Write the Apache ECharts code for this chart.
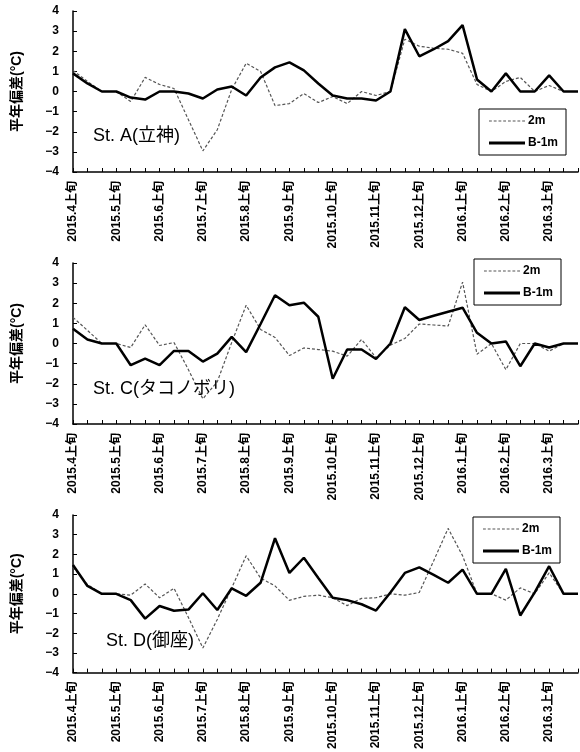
<!DOCTYPE html>
<html><head><meta charset="utf-8">
<script src="https://cdn.jsdelivr.net/npm/echarts@6/dist/echarts.min.js"></script>
<style>html,body{margin:0;padding:0;background:#fff}#c{width:580px;height:752px}</style>
</head><body><div id="c"></div>
<script>
const months = ['2015.4','2015.5','2015.6','2015.7','2015.8','2015.9','2015.10','2015.11','2015.12','2016.1','2016.2','2016.3'];
const dekads = ['上旬','中旬','下旬'];
const categories = [];
months.forEach(m => dekads.forEach(d => categories.push(m + d)));

const yTicks = [-4,-3,-2,-1,0,1,2,3,4];
const stations = ['St. A(立神)','St. C(タコノボリ)','St. D(御座)'];
const seriesNames = ['2m','B-1m'];

const A_2m  = [1.05,0.5,0,0,-0.5,0.7,0.35,0.15,-1.4,-2.95,-1.9,0.1,1.4,1.0,-0.7,-0.6,-0.1,-0.55,-0.25,-0.6,0,-0.2,0,2.6,2.25,2.15,2.1,1.9,0.35,0,0.5,0.7,0,0.3,0,0];
const A_B1m = [0.9,0.4,0,0,-0.3,-0.4,0,0,-0.1,-0.35,0.1,0.25,-0.2,0.7,1.2,1.45,1.05,0.4,-0.2,-0.35,-0.35,-0.45,0,3.1,1.75,2.1,2.5,3.3,0.6,0,0.9,0,0,0.8,0,0];
const C_2m  = [1.3,0.65,0,0,-0.2,0.93,-0.1,0.05,-1.3,-2.75,-1.9,0.05,1.9,0.7,0.3,-0.6,-0.22,-0.3,-0.38,-0.63,0.2,-0.7,-0.08,0.25,0.97,0.92,0.87,3.05,-0.53,0,-1.3,0,0,-0.38,0,0];
const C_B1m = [0.73,0.2,0,0,-1.08,-0.75,-1.08,-0.37,-0.37,-0.9,-0.5,0.33,-0.43,0.97,2.4,1.9,2.03,1.33,-1.75,-0.3,-0.3,-0.77,0,1.8,1.17,1.38,1.58,1.78,0.53,0,0.1,-1.13,0,-0.2,0,0];
const D_2m  = [1.35,0.47,0,0,-0.07,0.5,-0.2,0.28,-1.2,-2.75,-1.3,0.3,1.93,0.8,0.4,-0.33,-0.13,-0.07,-0.2,-0.6,-0.23,-0.2,0,-0.07,0.07,1.68,3.32,1.93,0,0,-0.32,0.3,0,1.06,0,0];
const D_B1m = [1.46,0.4,0,0,-0.32,-1.26,-0.62,-0.86,-0.8,0.03,-0.82,0.28,-0.1,0.56,2.82,1.06,1.83,0.8,-0.2,-0.32,-0.53,-0.85,0.07,1.06,1.34,0.96,0.56,1.23,0,0,1.26,-1.1,0.07,1.4,0,0];

const panels = [[A_2m, A_B1m],[C_2m, C_B1m],[D_2m, D_B1m]];

const FONT = '"Liberation Sans", Arial, "Noto Sans CJK JP", sans-serif';
const gridTops = [11, 263, 515];
const gridH = 161;
const legendPos = [[479,109],[474,259],[473,517]];
const titlePos = [[93,127],[93,380],[106,632]];

// legend icons: dashed and solid line samples (filled paths)
let dashPath = 'path://';
for (let x = 0; x < 36; x += 5) dashPath += 'M' + x + ',0h3v1.2h-3z';
const solidPath = 'path://M0,0h36v2.8h-36z';
const legendIcons = [dashPath, solidPath];

const option = {
  animation: false,
  backgroundColor: '#fff',
  textStyle: {fontFamily: FONT},
  grid: gridTops.map(t => ({left: 73, right: 2, top: t, height: gridH})),
  xAxis: gridTops.map((t, i) => ({
    type: 'category', gridIndex: i, data: categories, boundaryGap: false,
    axisLine: {onZero: false, lineStyle: {color: '#000', width: 1.5}},
    axisTick: {show: true, inside: true, length: 4, interval: 0, lineStyle: {color: '#000', width: 1}},
    axisLabel: {interval: 2, rotate: 90, margin: 9, color: '#000', fontWeight: 'bold', fontSize: 12, fontFamily: FONT},
    splitLine: {show: false}
  })),
  yAxis: gridTops.map((t, i) => ({
    type: 'value', gridIndex: i, min: yTicks[0], max: yTicks[yTicks.length-1], interval: 1,
    name: '平年偏差(°C)', nameLocation: 'middle', nameGap: 49, nameRotate: 90,
    nameTextStyle: {color: '#000', fontWeight: 'bold', fontSize: 14, fontFamily: FONT},
    axisLine: {show: true, lineStyle: {color: '#000', width: 1.5}},
    axisTick: {show: true, inside: true, length: 4, lineStyle: {color: '#000'}},
    axisLabel: {margin: 14, color: '#000', fontWeight: 'bold', fontSize: 12, fontFamily: FONT,
      formatter: v => String(v).replace('-', '\u2212')},
    splitLine: {show: false}
  })),
  title: stations.map((s, i) => ({
    text: s, left: titlePos[i][0], top: titlePos[i][1], padding: 0,
    textStyle: {color: '#000', fontWeight: 'normal', fontSize: 18, fontFamily: FONT}
  })),
  legend: legendPos.map(p => ({
    data: seriesNames.map((n, k) => ({name: n, icon: legendIcons[k]})),
    orient: 'vertical', left: p[0], top: p[1],
    backgroundColor: '#fff', borderColor: '#000', borderWidth: 1, borderRadius: 0,
    padding: [6, 8, 6, 10], itemGap: 10, itemWidth: 36, itemHeight: 14,
    textStyle: {color: '#000', fontWeight: 'bold', fontSize: 12, fontFamily: FONT, padding: [0,0,0,-2]},
    selectedMode: false
  })),
  series: []
};

panels.forEach((p, i) => {
  option.series.push({
    name: seriesNames[0], type: 'line', xAxisIndex: i, yAxisIndex: i, data: p[0],
    symbol: 'none', z: 2,
    lineStyle: {color: '#555', width: 1.2, type: [3, 2]},
    itemStyle: {color: '#555'}
  });
  option.series.push({
    name: seriesNames[1], type: 'line', xAxisIndex: i, yAxisIndex: i, data: p[1],
    symbol: 'none', z: 3,
    lineStyle: {color: '#000', width: 2.5, type: 'solid'},
    itemStyle: {color: '#000'}
  });
});

const chart = echarts.init(document.getElementById('c'), null, {renderer: 'canvas'});
chart.setOption(option);
</script></body></html>
